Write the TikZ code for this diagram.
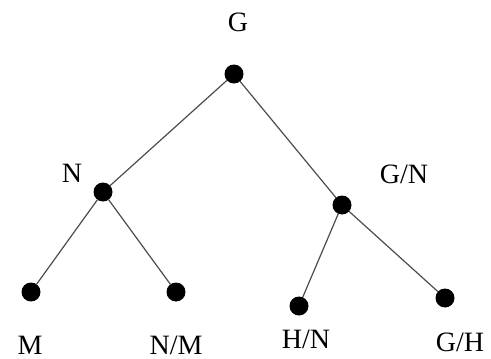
\documentclass[tikz,border=0pt]{standalone}
\usepackage{fontspec}
\setmainfont{Liberation Serif}
\begin{document}
\begin{tikzpicture}[x=1pt,y=-1pt,
  dot/.style={circle,fill=black,inner sep=0pt,minimum size=19pt},
  lbl/.style={font=\fontsize{28}{32}\selectfont,inner sep=0pt,anchor=base},
  edge/.style={draw=black!70,line width=1.2pt}]
\useasboundingbox (0,0) rectangle (491,359);
\node[dot] (G) at (234,74) {};
\node[dot] (N) at (103,192) {};
\node[dot] (GN) at (342,205) {};
\node[dot] (M) at (31,292) {};
\node[dot] (NM) at (176,292) {};
\node[dot] (HN) at (299,306) {};
\node[dot] (GH) at (445,298) {};
\node[lbl] (tG) at (238,31) {G};
\node[lbl] (tN) at (72,182) {N};
\node[lbl] (tGN) at (404,183) {G/N};
\node[lbl] (tM) at (30,354) {M};
\node[lbl] (tNM) at (176,354) {N/M};
\node[lbl] (tHN) at (306,348) {H/N};
\node[lbl] (tGH) at (460,351) {G/H};
\draw[edge] (G) -- (N);
\draw[edge] (G) -- (GN);
\draw[edge] (N) -- (M);
\draw[edge] (N) -- (NM);
\draw[edge] (GN) -- (HN);
\draw[edge] (GN) -- (GH);
\end{tikzpicture}
\end{document}
